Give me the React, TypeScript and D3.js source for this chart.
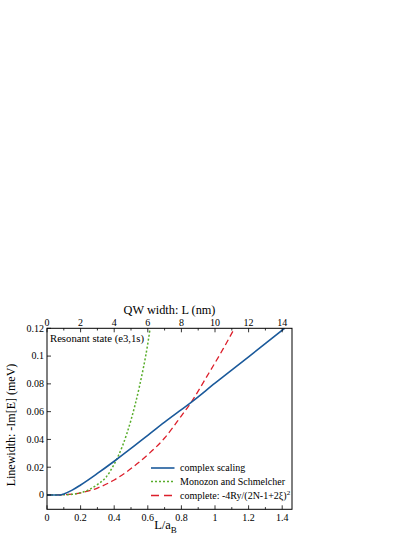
import React from "react";
import * as d3 from "d3";

type Pt = [number, number];

// L/aB, linewidth (meV)
const complexScaling: Pt[] = [
  [0, 0], [0.08, 0], [0.1, 0.0008], [0.15, 0.0035], [0.2, 0.0072], [0.3, 0.0155],
  [0.4, 0.0243], [0.5, 0.0335], [0.6, 0.043], [0.7, 0.0525], [0.8, 0.0615],
  [0.858, 0.0667], [1.0, 0.0805], [1.2, 0.0995], [1.414, 0.12],
];
const monozon: Pt[] = [
  [0, 0], [0.1, 0.0001], [0.15, 0.0005], [0.2, 0.0016], [0.25, 0.0038], [0.3, 0.0075],
  [0.35, 0.0126], [0.4, 0.0222], [0.45, 0.0355], [0.5, 0.054], [0.55, 0.078],
  [0.6, 0.109], [0.614, 0.12],
];
const complete: Pt[] = [
  [0, 0], [0.1, 0.0002], [0.2, 0.0015], [0.3, 0.005], [0.4, 0.0108], [0.5, 0.019],
  [0.6, 0.029], [0.7, 0.041], [0.8, 0.057], [0.858, 0.0667], [0.95, 0.085],
  [1.05, 0.1055], [1.116, 0.12],
];

const xMajor = [0, 0.2, 0.4, 0.6, 0.8, 1, 1.2, 1.4];
const xMinor = [0.1, 0.3, 0.5, 0.7, 0.9, 1.1, 1.3];
const topMajor = [0, 2, 4, 6, 8, 10, 12, 14];
const topMinor = [1, 3, 5, 7, 9, 11, 13];
const yMajor = [0, 0.02, 0.04, 0.06, 0.08, 0.1, 0.12];

const legendLabels = ["complex scaling", "Monozon and Schmelcher", "complete: -4Ry/(2N-1+2\u03BE)"];

const W = 415, H = 537;
const L = 47, R = 292, T = 328.3, B = 509.3;
const FONT = "Liberation Serif, Times New Roman, serif";

const colors = { blue: "#1b5a9b", green: "#58ad2b", red: "#dc1f2b" };

export default function App() {
  const x = d3.scaleLinear().domain([0, (R - L) / 168]).range([L, R]);
  const xTop = d3.scaleLinear().domain([0, (R - L) / 16.8]).range([L, R]);
  const y = d3.scaleLinear().domain([-0.0103, 0.12]).range([B, T]);
  const line = d3.line<Pt>().x(d => x(d[0])).y(d => y(d[1])).curve(d3.curveMonotoneX);

  const fmtY = (v: number) => (v === 0 ? "0" : String(+v.toFixed(2)));
  const fmtX = (v: number) => String(+v.toFixed(1));

  const legX1 = 151, legX2 = 174.5, legTx = 180;
  const legY = [471, 484.5, 498.5];

  return (
    <svg width={W} height={H} style={{ position: "absolute", left: 0, top: 0, background: "#fff", fontFamily: FONT }}>
      <defs>
        <clipPath id="plot"><rect x={L} y={T} width={R - L} height={B - T} /></clipPath>
      </defs>
      <g clipPath="url(#plot)" fill="none">
        <path d={line(complete) || ""} stroke={colors.red} strokeWidth={1.3} strokeDasharray="6,3.5" />
        <path d={line(monozon) || ""} stroke={colors.green} strokeWidth={1.5} strokeDasharray="2,2" />
        <path d={line(complexScaling) || ""} stroke={colors.blue} strokeWidth={1.6} />
      </g>
      {/* ticks */}
      <g stroke="#000" strokeWidth={0.8}>
        {xMajor.map(v => <line key={"bx" + v} x1={x(v)} x2={x(v)} y1={B} y2={B - 4} />)}
        {xMinor.map(v => <line key={"bxm" + v} x1={x(v)} x2={x(v)} y1={B} y2={B - 2.2} />)}
        {topMajor.map(v => <line key={"tx" + v} x1={xTop(v)} x2={xTop(v)} y1={T} y2={T + 4} />)}
        {topMinor.map(v => <line key={"txm" + v} x1={xTop(v)} x2={xTop(v)} y1={T} y2={T + 2.2} />)}
        {yMajor.map(v => <line key={"ly" + v} x1={L} x2={L + 4} y1={y(v)} y2={y(v)} />)}
      </g>
      <rect x={L} y={T} width={R - L} height={B - T} fill="none" stroke="#000" strokeWidth={1} />
      {/* tick labels */}
      <g fontSize={10} fill="#000">
        {xMajor.map(v => <text key={"bl" + v} x={x(v)} y={520.5} textAnchor="middle">{fmtX(v)}</text>)}
        {topMajor.map(v => <text key={"tl" + v} x={xTop(v)} y={325.8} textAnchor="middle">{v}</text>)}
        {yMajor.map(v => <text key={"yl" + v} x={L - 3} y={y(v) + 3.4} textAnchor="end">{fmtY(v)}</text>)}
      </g>
      {/* axis titles */}
      <text x={(L + R) / 2} y={314.3} textAnchor="middle" fontSize={12.3}>QW width: L (nm)</text>
      <text x={(L + R) / 2 - 4} y={529} textAnchor="middle" fontSize={12.5}>L/a<tspan fontSize={9} dy={3.5}>B</tspan></text>
      <text transform={`translate(15,${425}) rotate(-90)`} textAnchor="middle" fontSize={12}>Linewidth: -Im[E] (meV)</text>
      <text x={50} y={342.3} fontSize={10.7}>Resonant state (e3,1s)</text>
      {/* legend */}
      <g fontSize={10}>
        <line x1={legX1} x2={legX2} y1={legY[0] - 3} y2={legY[0] - 3} stroke={colors.blue} strokeWidth={1.6} />
        <line x1={legX1} x2={legX2} y1={legY[1] - 3} y2={legY[1] - 3} stroke={colors.green} strokeWidth={1.5} strokeDasharray="2,2" />
        <line x1={legX1} x2={legX2} y1={legY[2] - 3} y2={legY[2] - 3} stroke={colors.red} strokeWidth={1.3} strokeDasharray="8,5" />
        <text x={legTx} y={legY[0]}>{legendLabels[0]}</text>
        <text x={legTx} y={legY[1]}>{legendLabels[1]}</text>
        <text x={legTx} y={legY[2]}>{legendLabels[2]}<tspan fontSize={7} dy={-4}>2</tspan></text>
      </g>
    </svg>
  );
}
